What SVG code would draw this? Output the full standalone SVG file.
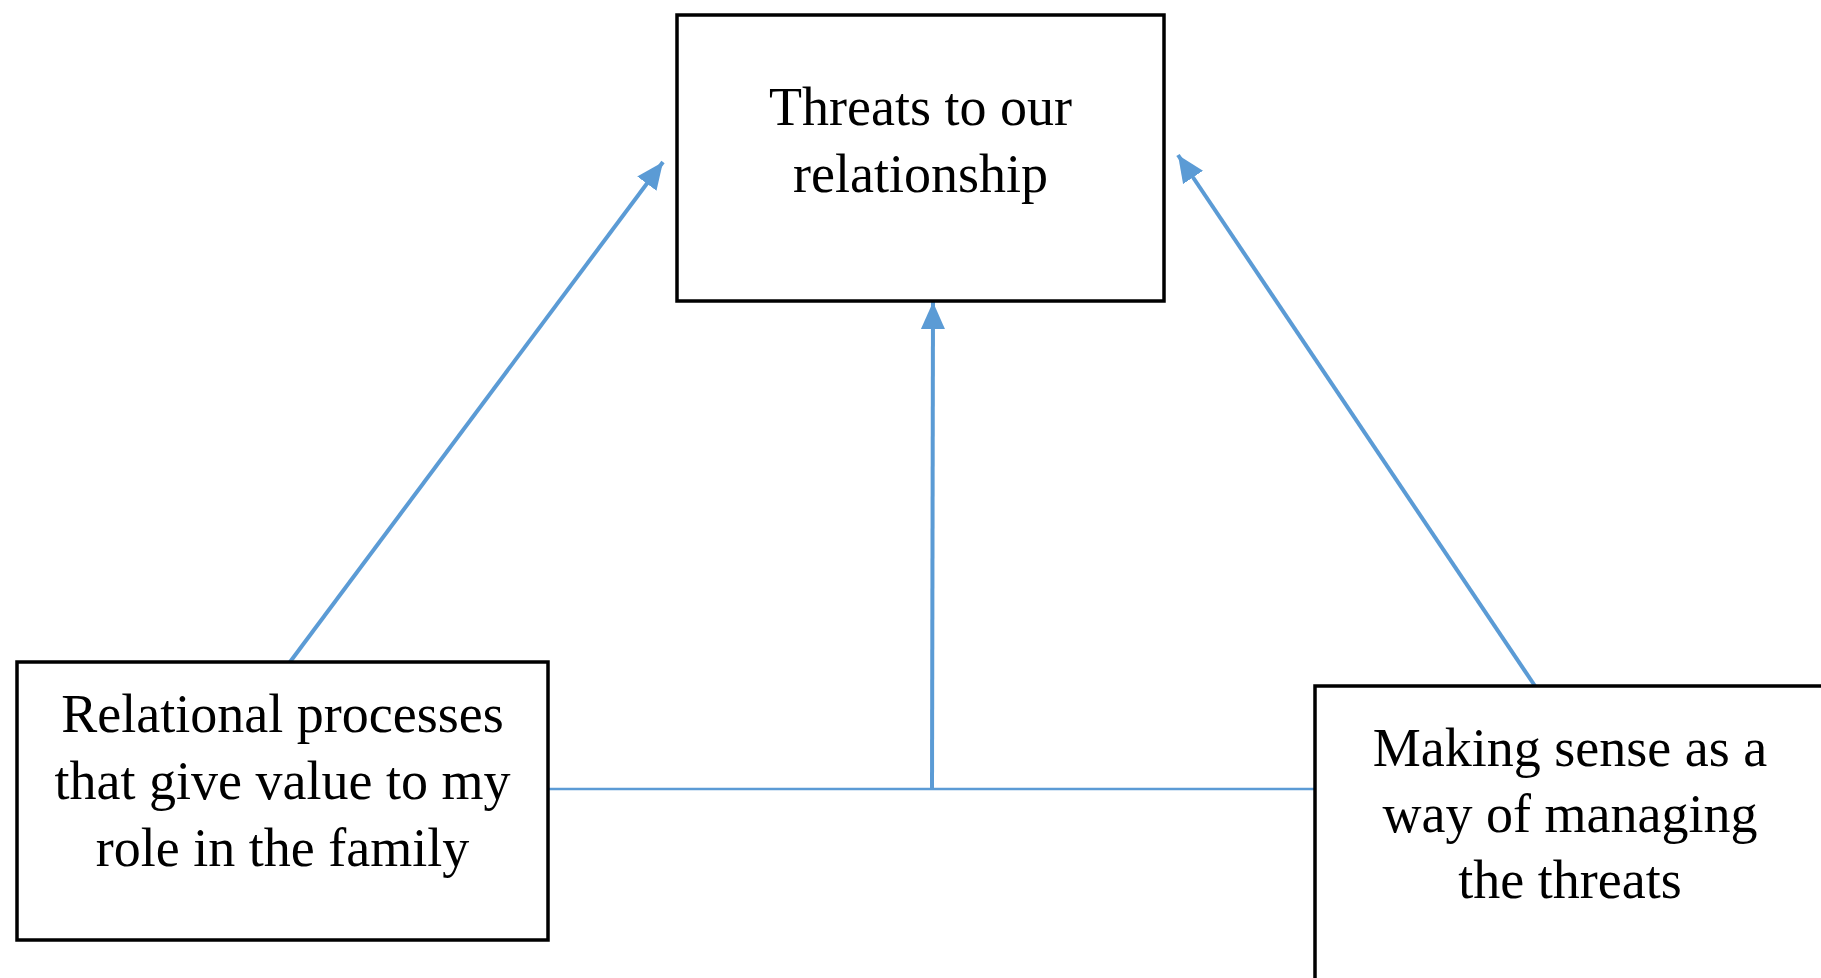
<svg xmlns="http://www.w3.org/2000/svg" width="1821" height="978" viewBox="0 0 1821 978">
  <style>
    .box { fill: #ffffff; stroke: #000000; stroke-width: 3.5; }
    .lbl { font-family: "Liberation Serif", "Times New Roman", serif; font-size: 54px; fill: #000000; text-anchor: middle; }
    .conn { fill: none; stroke: #5B9BD5; stroke-width: 4; }
    .thin { fill: none; stroke: #5B9BD5; stroke-width: 2.5; }
  </style>
  <defs>
    <marker id="arrow" markerUnits="userSpaceOnUse" markerWidth="28" markerHeight="26" refX="27" refY="13" orient="auto">
      <path d="M0,1 L27,13 L0,25 Z" fill="#5B9BD5"/>
    </marker>
  </defs>
  <rect width="1821" height="978" fill="#ffffff"/>

  <g id="connectors">
    <path class="conn" d="M290,662 L663,162" marker-end="url(#arrow)"/>
    <path class="conn" d="M1535,686 L1178,155" marker-end="url(#arrow)"/>
    <path class="thin" d="M549,789 L1315,789"/>
    <path class="conn" d="M932,789 L933,302" marker-end="url(#arrow)"/>
  </g>

  <g id="node-threats">
    <rect class="box" x="677" y="15" width="487" height="286"/>
    <text class="lbl" x="920.5" y="125">Threats to our</text>
    <text class="lbl" x="920.5" y="192">relationship</text>
  </g>

  <g id="node-relational">
    <rect class="box" x="17" y="662" width="531" height="278"/>
    <text class="lbl" x="282.5" y="732">Relational processes</text>
    <text class="lbl" x="282.5" y="799">that give value to my</text>
    <text class="lbl" x="282.5" y="866">role in the family</text>
  </g>

  <g id="node-making-sense">
    <rect class="box" x="1315" y="686" width="520" height="310"/>
    <text class="lbl" x="1570" y="766">Making sense as a</text>
    <text class="lbl" x="1570" y="832">way of managing</text>
    <text class="lbl" x="1570" y="898">the threats</text>
  </g>
</svg>
